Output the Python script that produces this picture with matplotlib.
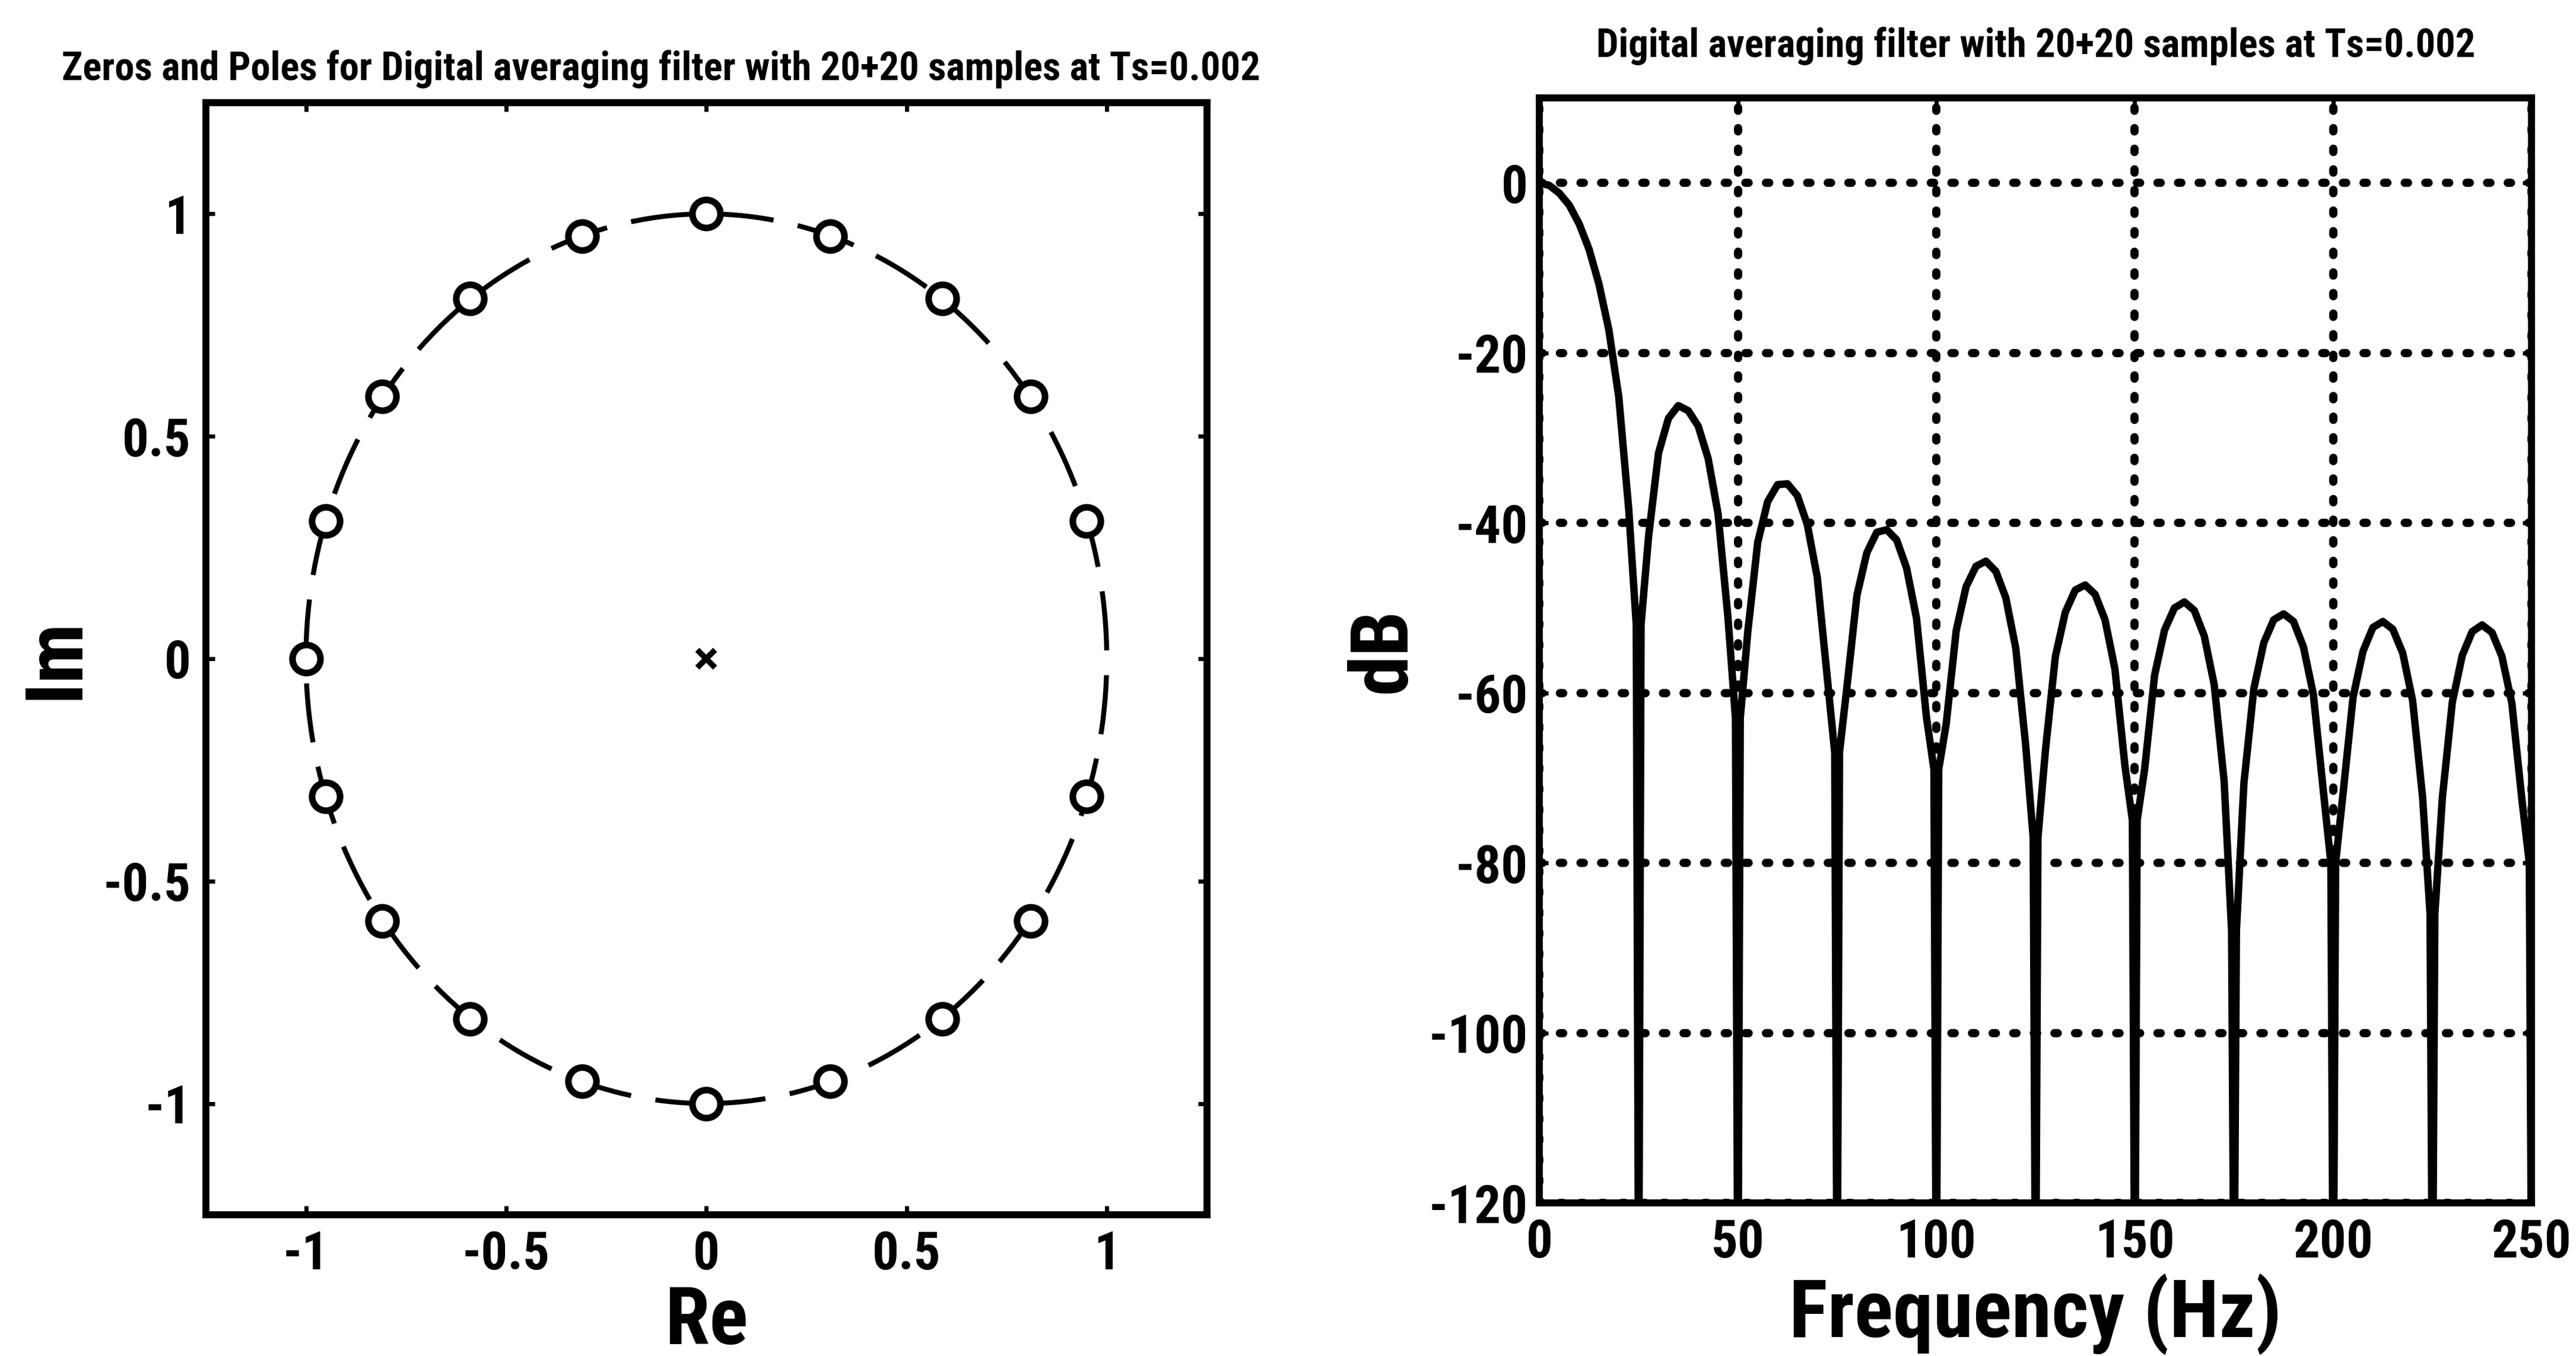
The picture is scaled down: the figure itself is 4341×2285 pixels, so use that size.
import matplotlib
matplotlib.use('Agg')
import matplotlib.pyplot as plt
import matplotlib.patches as mpatches
import numpy as np

plt.rcParams['font.family'] = ['Roboto Condensed', 'Asap Condensed', 'DejaVu Sans']
plt.rcParams['font.weight'] = 'bold'
plt.rcParams['axes.titleweight'] = 'bold'
plt.rcParams['axes.labelweight'] = 'bold'
plt.rcParams['axes.unicode_minus'] = False

# zeros / pole
zero_re = [0.95, 0.81, 0.59, 0.31, 0.0, -0.31, -0.59, -0.81, -0.95, -1.0,
           -0.95, -0.81, -0.59, -0.31, 0.0, 0.31, 0.59, 0.81, 0.95]
zero_im = [0.31, 0.59, 0.81, 0.95, 1.0, 0.95, 0.81, 0.59, 0.31, 0.0,
           -0.31, -0.59, -0.81, -0.95, -1.0, -0.95, -0.81, -0.59, -0.31]
pole_re = [0.0]
pole_im = [0.0]

# magnitude response
main_hz = [0, 2.5, 5, 7.5, 10, 12.5, 15, 17.5, 20, 22.5]
main_db = [0, -0.3, -1.2, -2.6, -4.8, -7.8, -11.9, -17.3, -25.2, -38.4]
lobe_offsets_hz = [2.5, 5, 7.5, 10, 12.5, 15, 17.5, 20, 22.5]
lobe_start_hz = [25, 50, 75, 100, 125, 150, 175, 200, 225]
lobe_db = [
    [-41.6, -31.8, -27.7, -26.2, -26.8, -28.6, -32.4, -38.9, -51.1],
    [-52.8, -42.3, -37.5, -35.5, -35.4, -36.8, -40.2, -46.4, -58.1],
    [-59.2, -48.5, -43.5, -41.1, -40.8, -42.0, -45.3, -51.2, -62.8],
    [-63.6, -52.7, -47.5, -45.1, -44.5, -45.7, -48.8, -54.7, -66.1],
    [-66.7, -55.7, -50.5, -47.9, -47.3, -48.4, -51.4, -57.2, -68.5],
    [-68.9, -57.9, -52.6, -50.0, -49.3, -50.3, -53.3, -59.0, -70.3],
    [-70.6, -59.5, -54.1, -51.4, -50.7, -51.6, -54.6, -60.2, -71.5],
    [-71.7, -60.5, -55.1, -52.3, -51.6, -52.5, -55.3, -60.9, -72.2],
    [-72.3, -61.1, -55.6, -52.8, -52.0, -52.9, -55.7, -61.2, -72.4],
]
notch_hz = [25, 50, 75, 100, 125, 150, 175, 200, 225, 250]
notch_floor_db = [-52, -63, -67, -69, -77, -75, -88, -80, -86, -80]
notch_bottom_db = -135

re_ticks = [-1, -0.5, 0, 0.5, 1]
re_labels = ['-1', '-0.5', '0', '0.5', '1']
hz_ticks = [0, 50, 100, 150, 200, 250]
db_ticks = [0, -20, -40, -60, -80, -100, -120]

title_left = 'Zeros and Poles for Digital averaging filter with 20+20 samples at Ts=0.002'
title_right = 'Digital averaging filter with 20+20 samples at Ts=0.002'

# assemble the response polyline: main lobe, then notch + side lobe pairs
f_all = list(main_hz)
d_all = list(main_db)
for i, nf in enumerate(notch_hz):
    f_all += [nf - 0.6, nf]
    d_all += [notch_floor_db[i], notch_bottom_db]
    if i < len(lobe_start_hz):
        f_all.append(nf + 0.6)
        d_all.append(notch_floor_db[i])
        f_all += [lobe_start_hz[i] + o for o in lobe_offsets_hz]
        d_all += lobe_db[i]

fig = plt.figure(figsize=(43.41, 22.85), dpi=100)
spine_w = 8.5
tick_fs = 64
label_fs = 98
title_fs = 48

# left: pole-zero plot
ax1 = fig.add_axes([0.0799, 0.1042, 0.3886, 0.8201])
ax1.add_patch(mpatches.Circle((0, 0), 1, fill=False, color='black', lw=6,
                              ls=(0, (12, 5))))
ax1.plot(zero_re, zero_im, 'o', ms=34, mfc='white', mec='black', mew=8)
ax1.plot(pole_re, pole_im, 'x', ms=22, mec='black', mew=7)
ax1.set_xlim(-1.25, 1.25)
ax1.set_ylim(-1.25, 1.25)
ax1.set_xticks(re_ticks)
ax1.set_xticklabels(re_labels)
ax1.set_yticks(re_ticks)
ax1.set_yticklabels(re_labels)
ax1.set_xlabel('Re', fontsize=label_fs)
ax1.set_ylabel('Im', fontsize=label_fs)
ax1.xaxis.set_label_coords(0.5, -0.062)
ax1.yaxis.set_label_coords(-0.111, 0.5)
ax1.set_title(title_left, fontsize=title_fs, pad=27, x=0.455)

# right: frequency response
ax2 = fig.add_axes([0.5976, 0.1129, 0.3852, 0.8149])
ax2.plot(f_all, d_all, color='black', lw=9)
ax2.set_xlim(0, 250)
ax2.set_ylim(-120, 10)
ax2.set_xticks(hz_ticks)
ax2.set_yticks(db_ticks)
ax2.set_axisbelow(True)
ax2.grid(True, color='black', lw=10, ls=(0, (0.4, 2.1)), dash_capstyle='round')
ax2.set_xlabel('Frequency (Hz)', fontsize=label_fs)
ax2.set_ylabel('dB', fontsize=label_fs)
ax2.xaxis.set_label_coords(0.5, -0.064)
ax2.yaxis.set_label_coords(-0.118, 0.5)
ax2.set_title(title_right, fontsize=title_fs, pad=50)

for ax in (ax1, ax2):
    for s in ax.spines.values():
        s.set_linewidth(spine_w)
    ax.tick_params(direction='in', top=True, right=True, length=11, width=5,
                   labelsize=tick_fs)
    ax.tick_params(axis='x', pad=18)
ax1.tick_params(axis='y', pad=18)
ax2.tick_params(axis='y', pad=14)

plt.savefig('out.png', dpi=100)
